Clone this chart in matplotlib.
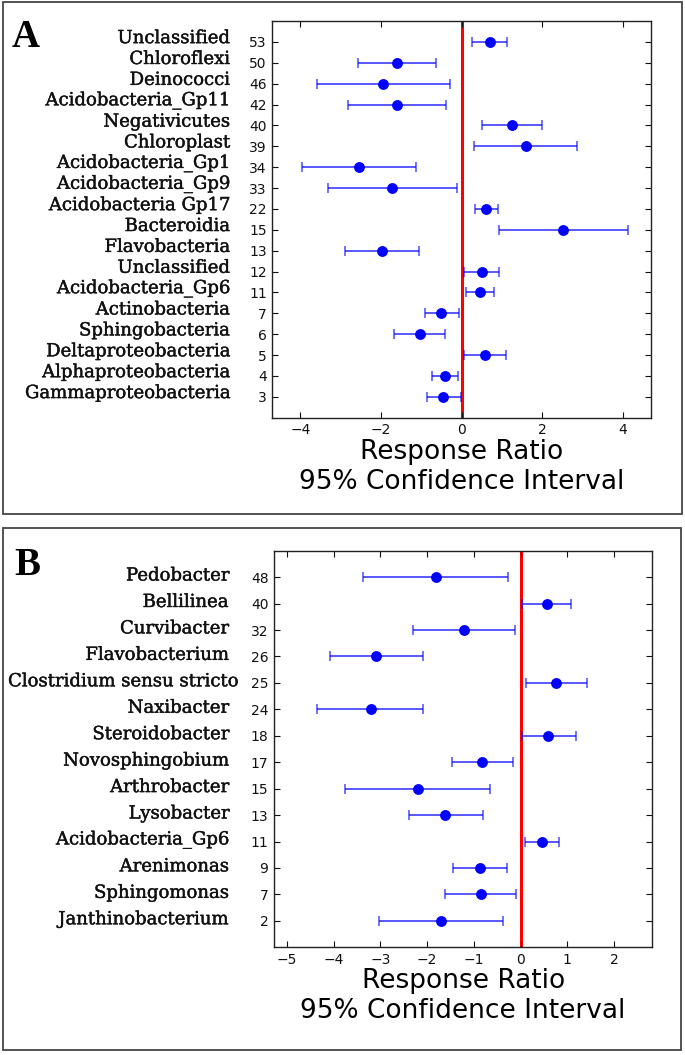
import numpy as np
import matplotlib
matplotlib.use('Agg')
import matplotlib.pyplot as plt
import matplotlib.transforms as mtransforms
import matplotlib.patheffects as pe
from matplotlib.patches import Rectangle

# ---------------- panel A : classes ----------------
names_a = ['Unclassified', 'Chloroflexi', 'Deinococci', 'Acidobacteria_Gp11',
           'Negativicutes', 'Chloroplast', 'Acidobacteria_Gp1', 'Acidobacteria_Gp9',
           'Acidobacteria Gp17', 'Bacteroidia', 'Flavobacteria', 'Unclassified',
           'Acidobacteria_Gp6', 'Actinobacteria', 'Sphingobacteria',
           'Deltaproteobacteria', 'Alphaproteobacteria', 'Gammaproteobacteria']
ids_a = ['53', '50', '46', '42', '40', '39', '34', '33', '22', '15', '13', '12',
         '11', '7', '6', '5', '4', '3']
rr_a = [0.70, -1.60, -1.96, -1.60, 1.26, 1.59, -2.55, -1.73, 0.62, 2.52, -1.98,
        0.51, 0.46, -0.51, -1.04, 0.58, -0.40, -0.46]
lo_a = [0.27, -2.56, -3.60, -2.83, 0.51, 0.32, -3.96, -3.32, 0.33, 0.93, -2.90,
        0.05, 0.12, -0.90, -1.68, 0.05, -0.73, -0.85]
hi_a = [1.13, -0.64, -0.28, -0.38, 2.00, 2.87, -1.14, -0.12, 0.91, 4.13, -1.05,
        0.93, 0.81, -0.07, -0.41, 1.10, -0.08, -0.02]

# ---------------- panel B : genera ----------------
names_b = ['Pedobacter', 'Bellilinea', 'Curvibacter', 'Flavobacterium',
           'Clostridium sensu stricto', 'Naxibacter', 'Steroidobacter',
           'Novosphingobium', 'Arthrobacter', 'Lysobacter', 'Acidobacteria_Gp6',
           'Arenimonas', 'Sphingomonas', 'Janthinobacterium']
ids_b = ['48', '40', '32', '26', '25', '24', '18', '17', '15', '13', '11', '9', '7', '2']
rr_b = [-1.81, 0.56, -1.21, -3.09, 0.76, -3.21, 0.59, -0.82, -2.20, -1.61, 0.45,
        -0.86, -0.84, -1.70]
lo_b = [-3.37, 0.03, -2.30, -4.09, 0.11, -4.36, 0.03, -1.47, -3.76, -2.40, 0.09,
        -1.44, -1.61, -3.04]
hi_b = [-0.26, 1.08, -0.11, -2.09, 1.43, -2.08, 1.19, -0.17, -0.66, -0.80, 0.82,
        -0.29, -0.09, -0.37]

W, H = 685.0, 1055.0
fig = plt.figure(figsize=(W / 100, H / 100), dpi=100)
name_texts = []


def px_axes(left, top, right, bottom):
    # axes rectangle given in pixels of the picture
    return fig.add_axes([left / W, 1 - bottom / H, (right - left) / W, (bottom - top) / H])


def forest(ax, names, ids, rr, lo, hi, xlim, xticks, name_x, name_dy):
    n = len(names)
    y = np.arange(n)[::-1]
    rr = np.array(rr)
    err = [rr - np.array(lo), np.array(hi) - rr]
    ax.axvline(0, color='red', lw=2.2, zorder=1)
    ax.errorbar(rr, y, xerr=err, fmt='none', ecolor='blue', alpha=0.7,
                elinewidth=1.3, capsize=3.3, capthick=1.1, zorder=2)
    ax.plot(rr, y, 'o', color='blue', ms=6.8, zorder=3)
    ax.set_xlim(xlim)
    ax.set_ylim(-1, n)
    ax.set_xticks(xticks)
    ax.set_yticks(y)
    ax.set_yticklabels(ids)
    ax.tick_params(direction='in', top=True, right=True, length=4, width=0.8,
                   labelsize=10, colors='#111111', pad=4)
    for s in ax.spines.values():
        s.set_linewidth(1.0)
        s.set_color('#222222')
    ax.set_xlabel('Response Ratio\n95% Confidence Interval', fontsize=19,
                  labelpad=1, linespacing=1.2)
    tr = mtransforms.blended_transform_factory(fig.transFigure, ax.transData)
    for yi, nm in zip(y, names):
        t = ax.text(name_x / W, yi + name_dy, nm, transform=tr, ha='right', va='center',
                    family='DejaVu Serif', fontsize=13, color='#111111',
                    path_effects=[pe.withStroke(linewidth=0.3, foreground='#111111')])
        name_texts.append(t)


ax1 = px_axes(272.3, 21, 650.7, 417.7)
forest(ax1, names_a, ids_a, rr_a, lo_a, hi_a, (-4.7, 4.7), [-4, -2, 0, 2, 4], 230, 0.18)

ax2 = px_axes(274, 550.7, 652.3, 947.3)
forest(ax2, names_b, ids_b, rr_b, lo_b, hi_b, (-5.28, 2.82), list(range(-5, 3)), 229, 0.06)

# a name too long for the column starts at the panel's left margin instead
fig.canvas.draw()
for t in name_texts:
    bb = t.get_window_extent()
    if bb.x0 < 8:
        t.set_ha('left')
        t.set_x(8 / W)

# panel frames
for (l, t, r, b) in [(2.7, 2, 682.3, 514.3), (2.7, 527.7, 681, 1050)]:
    fig.patches.append(Rectangle((l / W, 1 - b / H), (r - l) / W, (b - t) / H,
                                 transform=fig.transFigure, fill=False,
                                 ec='#444444', lw=1.3))

fig.text(12 / W, 1 - 46.7 / H, 'A', family='Liberation Serif', weight='bold',
         fontsize=28, va='baseline')
fig.text(14 / W, 1 - 575 / H, 'B', family='Liberation Serif', weight='bold',
         fontsize=28, va='baseline')

fig.savefig('out.png', dpi=100)
